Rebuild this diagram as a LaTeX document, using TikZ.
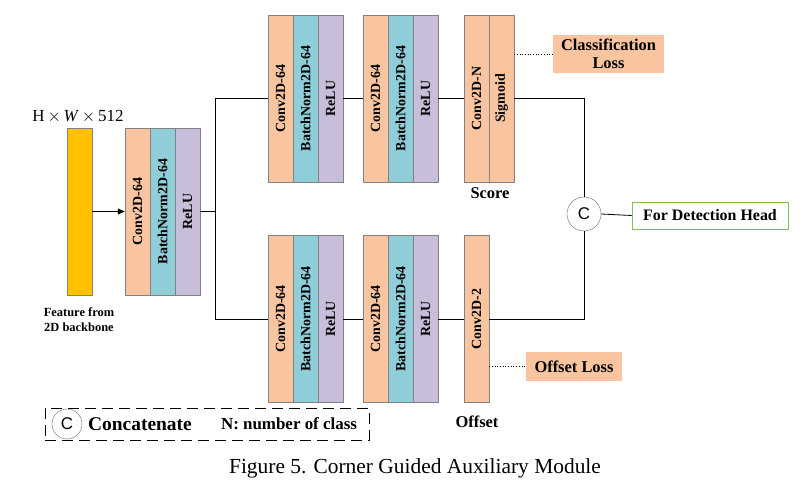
\documentclass[tikz,border=0pt]{standalone}
\usepackage{fontspec}
\setmainfont{Liberation Serif}
\newfontfamily\sansC{Liberation Sans}
\usetikzlibrary{arrows.meta}
\definecolor{convc}{RGB}{248,197,160}
\definecolor{bnc}{RGB}{143,205,216}
\definecolor{reluc}{RGB}{200,190,218}
\definecolor{featc}{RGB}{255,192,0}
\definecolor{bordc}{RGB}{130,130,130}
\definecolor{greenc}{RGB}{130,190,80}
\begin{document}
\begin{tikzpicture}[x=1bp,y=-1bp,
  every node/.style={inner sep=0pt},
  layer/.style={draw=bordc, line width=0.5bp, minimum width=25bp, minimum height=167bp},
  convbox/.style={layer, fill=convc},
  bnbox/.style={layer, fill=bnc},
  relubox/.style={layer, fill=reluc},
  lbl/.style={rotate=90, font=\fontsize{14}{14}\selectfont\bfseries},
  txt/.style={font=\fontsize{16.5}{19}\selectfont\bfseries, align=center},
  conn/.style={line width=0.8bp, draw=black},
  dotl/.style={line width=0.7bp, dotted},
  cnode/.style={circle, draw=bordc, line width=0.5bp, fill=white, minimum size=34bp, font=\sansC\fontsize{17}{17}\selectfont}
]
\useasboundingbox (0,0) rectangle (809,485);

% input feature
\node[draw=bordc, line width=0.5bp, fill=featc, minimum width=25bp, minimum height=167bp] (feat) at (79.5,211.5) {};
\node (hw) at (78,117) {\fontsize{17}{17}\selectfont H\,$\times$\,\textit{W}\,$\times$\,512};
\node[font=\fontsize{12.5}{15}\selectfont\bfseries, align=center] (ftxt) at (79,320) {Feature from\\2D backbone};

% first block
\node[convbox] (c0) at (137.5,211.5) {};
\node[bnbox] (b0) at (162.5,211.5) {};
\node[relubox] (r0) at (187.5,211.5) {};
\node[lbl] (c0t) at (c0.center) {Conv2D-64};
\node[lbl] (b0t) at (b0.center) {BatchNorm2D-64};
\node[lbl] (r0t) at (r0.center) {ReLU};

% top branch
\node[convbox] (ct1) at (280.5,98.5) {};
\node[bnbox] (bt1) at (305.5,98.5) {};
\node[relubox] (rt1) at (330.5,98.5) {};
\node[lbl] at (ct1.center) {Conv2D-64};
\node[lbl] at (bt1.center) {BatchNorm2D-64};
\node[lbl] at (rt1.center) {ReLU};

\node[convbox] (ct2) at (375.5,98.5) {};
\node[bnbox] (bt2) at (400.5,98.5) {};
\node[relubox] (rt2) at (425.5,98.5) {};
\node[lbl] at (ct2.center) {Conv2D-64};
\node[lbl] at (bt2.center) {BatchNorm2D-64};
\node[lbl] at (rt2.center) {ReLU};

\node[convbox] (ct3) at (476.5,98.5) {};
\node[convbox] (st3) at (501.5,98.5) {};
\node[lbl] at (ct3.center) {Conv2D-N};
\node[lbl] at (st3.center) {Sigmoid};
\node[txt] (score) at (490,193) {Score};

% bottom branch
\node[convbox] (cb1) at (280.5,319) {};
\node[bnbox] (bb1) at (305.5,319) {};
\node[relubox] (rb1) at (330.5,319) {};
\node[lbl] at (cb1.center) {Conv2D-64};
\node[lbl] at (bb1.center) {BatchNorm2D-64};
\node[lbl] at (rb1.center) {ReLU};

\node[convbox] (cb2) at (375.5,319) {};
\node[bnbox] (bb2) at (400.5,319) {};
\node[relubox] (rb2) at (425.5,319) {};
\node[lbl] at (cb2.center) {Conv2D-64};
\node[lbl] at (bb2.center) {BatchNorm2D-64};
\node[lbl] at (rb2.center) {ReLU};

\node[convbox] (cb3) at (476.5,319) {};
\node[lbl] at (cb3.center) {Conv2D-2};
\node[txt] (offt) at (477,422) {Offset};

% loss boxes
\node[txt, fill=convc, minimum width=111bp, minimum height=38bp] (cls) at (608.5,54) {Classification\\[-1pt]Loss};
\node[txt, fill=convc, minimum width=96bp, minimum height=29bp] (offl) at (574,366.5) {Offset Loss};

% concat and head
\node[cnode] (cat) at (584,214) {C};
\node[txt, draw=greenc, line width=0.9bp, fill=white, minimum width=156bp, minimum height=27bp, font=\fontsize{16}{19}\selectfont\bfseries] (head) at (710,215.5) {For Detection Head};

% connectors
\coordinate (br) at (215,211.5);
\draw[conn, -{Triangle[length=7bp,width=6bp]}] (feat.east) -- (c0.west);
\draw[conn] (r0.east) -- (br);
\draw[conn] (br) |- (ct1.west);
\draw[conn] (br) |- (cb1.west);
\draw[conn] (rt1.east) -- (ct2.west);
\draw[conn] (rt2.east) -- (ct3.west);
\draw[conn] (rb1.east) -- (cb2.west);
\draw[conn] (rb2.east) -- (cb3.west);
\draw[conn] (st3.east) -| (cat.north);
\draw[conn] (cb3.east) -| (cat.south);
\draw[conn] (cat.east) -- (head.west);
\draw[dotl] (st3.east |- cls.west) -- (cls.west);
\draw[dotl] (cb3.east |- offl.west) -- (offl.west);

% legend
\node[draw, line width=0.9bp, dash pattern=on 11bp off 6bp, minimum width=324bp, minimum height=32bp] (leg) at (207,424) {};
\node[cnode, minimum size=30bp] (lc) at (67,424) {C};
\node[font=\fontsize{19.5}{20}\selectfont\bfseries] (lct) at (140,424) {Concatenate};
\node[font=\fontsize{17}{18}\selectfont\bfseries] (lnt) at (289,424) {N: number of class};

% caption
\node[font=\fontsize{21.5}{22}\selectfont] (cap) at (415,468) {Figure 5. Corner Guided Auxiliary Module};
\end{tikzpicture}
\end{document}
